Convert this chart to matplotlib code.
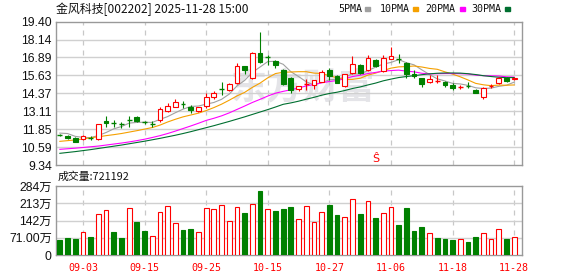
import matplotlib
matplotlib.use('Agg')
import matplotlib.pyplot as plt
from matplotlib.patches import Rectangle

# ---------------- data ----------------
dates = ['08-29', '09-01', '09-02', '09-03', '09-04', '09-05', '09-08', '09-09', '09-10', '09-11',
         '09-12', '09-15', '09-16', '09-17', '09-18', '09-19', '09-22', '09-23', '09-24', '09-25',
         '09-26', '09-29', '09-30', '10-09', '10-10', '10-13', '10-14', '10-15', '10-16', '10-17',
         '10-20', '10-21', '10-22', '10-23', '10-24', '10-27', '10-28', '10-29', '10-30', '10-31',
         '11-03', '11-04', '11-05', '11-06', '11-07', '11-10', '11-11', '11-12', '11-13', '11-14',
         '11-17', '11-18', '11-19', '11-20', '11-21', '11-24', '11-25', '11-26', '11-27', '11-28']
opens = [11.47, 11.40, 11.21, 11.14, 11.28, 11.14, 12.45, 12.30, 12.22, 12.52,
         12.73, 12.38, 12.26, 12.47, 13.15, 13.43, 13.63, 13.38, 13.13, 13.50,
         14.13, 14.72, 14.58, 15.10, 16.28, 15.42, 17.20, 16.92, 16.64, 16.04,
         15.43, 14.65, 15.00, 14.96, 15.20, 16.01, 15.59, 14.90, 15.77, 16.36,
         16.01, 16.71, 15.95, 16.80, 16.80, 16.48, 15.75, 15.43, 15.15, 15.22,
         15.19, 14.96, 14.83, 14.88, 14.61, 14.13, 14.86, 15.08, 15.43, 15.36]
highs = [11.54, 11.45, 11.30, 11.42, 11.40, 12.22, 12.78, 12.50, 12.38, 12.78,
         12.80, 12.45, 12.43, 13.43, 13.70, 13.97, 13.83, 13.55, 13.42, 14.37,
         14.55, 15.19, 15.10, 16.48, 16.30, 17.25, 18.65, 17.08, 16.72, 16.10,
         15.50, 14.92, 15.40, 15.33, 15.98, 16.18, 15.65, 15.75, 16.96, 16.40,
         17.06, 16.75, 17.06, 17.65, 17.12, 16.59, 16.00, 15.45, 15.64, 15.64,
         15.22, 15.12, 14.93, 15.17, 14.68, 14.85, 15.00, 15.55, 15.50, 15.50]
lows = [11.36, 11.17, 10.92, 11.10, 11.10, 11.10, 12.03, 12.03, 11.97, 12.00,
        12.36, 12.20, 12.03, 12.38, 13.08, 13.38, 13.32, 12.97, 13.08, 13.32,
        14.00, 14.25, 14.50, 15.03, 15.73, 15.40, 16.50, 16.35, 16.13, 14.96,
        14.37, 14.55, 14.62, 14.65, 15.15, 15.31, 15.10, 14.85, 15.73, 15.70,
        15.95, 16.25, 15.89, 16.75, 16.52, 15.47, 15.43, 14.84, 15.12, 15.08,
        14.84, 14.61, 14.68, 14.77, 14.37, 13.97, 14.75, 15.00, 15.20, 15.30]
closes = [11.45, 11.22, 10.98, 11.38, 11.26, 12.20, 12.27, 12.27, 12.20, 12.48,
          12.43, 12.34, 12.22, 13.25, 13.48, 13.76, 13.60, 13.17, 13.39, 14.12,
          14.37, 14.70, 15.01, 16.27, 16.04, 17.20, 16.60, 16.88, 16.38, 15.00,
          14.61, 14.88, 15.03, 15.28, 15.85, 15.58, 15.12, 15.71, 16.43, 15.78,
          16.83, 16.29, 16.83, 16.99, 16.76, 15.72, 15.56, 15.05, 15.36, 15.25,
          14.98, 14.72, 14.86, 14.84, 14.40, 14.72, 14.90, 15.43, 15.27, 15.46]
ma5 = [11.58, 11.55, 11.35, 11.28, 11.26, 11.41, 11.62, 11.88, 12.04, 12.28,
       12.33, 12.34, 12.33, 12.54, 12.74, 13.01, 13.26, 13.45, 13.48, 13.61,
       13.73, 13.95, 14.32, 14.89, 15.28, 15.84, 16.22, 16.60, 16.62, 16.41,
       15.89, 15.55, 15.18, 14.96, 15.13, 15.32, 15.37, 15.51, 15.74, 15.72,
       15.97, 16.21, 16.43, 16.54, 16.74, 16.52, 16.37, 16.02, 15.69, 15.39,
       15.24, 15.07, 15.03, 14.93, 14.76, 14.71, 14.74, 14.86, 14.94, 15.16]
ma10 = [11.00, 11.05, 11.10, 11.17, 11.25, 11.32, 11.40, 11.47, 11.55, 11.65,
        11.75, 11.86, 11.97, 12.14, 12.36, 12.55, 12.72, 12.85, 12.98, 13.16,
        13.37, 13.61, 13.89, 14.19, 14.44, 14.79, 15.09, 15.46, 15.76, 15.85,
        15.87, 15.89, 15.89, 15.79, 15.77, 15.61, 15.46, 15.34, 15.35, 15.43,
        15.65, 15.79, 15.97, 16.14, 16.23, 16.25, 16.29, 16.22, 16.12, 16.06,
        15.88, 15.72, 15.53, 15.31, 15.07, 14.97, 14.91, 14.95, 14.94, 14.96]
ma20 = [10.44, 10.48, 10.52, 10.57, 10.62, 10.67, 10.74, 10.81, 10.88, 10.96,
        11.05, 11.15, 11.27, 11.40, 11.55, 11.72, 11.90, 12.08, 12.27, 12.47,
        12.62, 12.79, 13.00, 13.24, 13.48, 13.73, 13.95, 14.18, 14.38, 14.51,
        14.62, 14.75, 14.89, 14.99, 15.11, 15.20, 15.27, 15.40, 15.55, 15.64,
        15.76, 15.84, 15.93, 15.97, 16.00, 15.93, 15.88, 15.78, 15.73, 15.75,
        15.76, 15.76, 15.75, 15.73, 15.65, 15.61, 15.60, 15.59, 15.53, 15.51]
ma30 = [10.16, 10.22, 10.28, 10.35, 10.42, 10.50, 10.58, 10.66, 10.74, 10.83,
        10.92, 11.01, 11.11, 11.21, 11.32, 11.43, 11.55, 11.68, 11.82, 11.96,
        12.10, 12.25, 12.40, 12.56, 12.72, 12.89, 13.06, 13.23, 13.41, 13.60,
        13.70, 13.82, 13.96, 14.09, 14.24, 14.36, 14.45, 14.57, 14.71, 14.82,
        14.96, 15.09, 15.25, 15.37, 15.48, 15.55, 15.61, 15.68, 15.74, 15.78,
        15.80, 15.80, 15.79, 15.75, 15.69, 15.61, 15.55, 15.50, 15.47, 15.48]
volumes = [61.7, 70, 66, 94.7, 74, 167.5, 184, 94.7, 70, 192,
           136, 99, 77, 176, 200, 132, 103, 107, 93, 192,
           188, 205, 139, 196, 173, 210, 263, 188, 181, 189,
           198, 147, 200, 134.5, 176, 206, 165, 155, 229, 169,
           221, 152, 172, 196, 123.5, 193, 99, 115, 89, 70,
           66, 62, 64.5, 53.5, 74, 89, 64.5, 106, 64.5, 72.1]  # unit: 万
vol_up = [0, 0, 0, 1, 0, 1, 1, 0, 0, 1,
          0, 0, 1, 1, 1, 1, 0, 0, 1, 1,
          1, 1, 1, 1, 0, 1, 0, 1, 0, 0,
          0, 1, 1, 1, 1, 0, 0, 1, 1, 0,
          1, 0, 1, 1, 0, 0, 0, 0, 1, 0,
          0, 0, 1, 0, 0, 1, 1, 1, 0, 1]
price_ticks = [9.34, 10.59, 11.85, 13.11, 14.37, 15.63, 16.89, 18.14, 19.40]
price_labels = ['9.34', '10.59', '11.85', '13.11', '14.37', '15.63', '16.89', '18.14', '19.40']
vol_ticks = [0, 71, 142, 213, 284]
vol_labels = ['0', '71.00万', '142万', '213万', '284万']
date_ticks = ['09-03', '09-15', '09-25', '10-15', '10-27', '11-06', '11-18', '11-28']
title = '金风科技[002202] 2025-11-28 15:00'
vol_title = '成交量:721192'
signal_date = '11-04'

# ---------------- style ----------------
RED = '#ff0000'
GREEN = '#008000'
MA_COLORS = ['#a0a0a0', '#f5a000', '#ff00ff', '#006f30']
GRID = '#d0d0d0'
SPINE = '#999999'
CJK = ['Noto Sans CJK SC', 'DejaVu Sans']
NUM = ['Liberation Sans', 'Noto Sans CJK SC']

W, H = 578, 276
fig = plt.figure(figsize=(W / 100, H / 100), dpi=100)


def ax_px(x0, y0, x1, y1):
    return fig.add_axes([x0 / W, 1 - y1 / H, (x1 - x0) / W, (y1 - y0) / H])


ax = ax_px(56, 21.7, 522.3, 165)
axv = ax_px(56, 186, 522.3, 255)

n = len(closes)
xs = list(range(n))
date_pos = [dates.index(d) for d in date_ticks]

for a in (ax, axv):
    a.set_xlim(-0.5, 60.05)
    for s in a.spines.values():
        s.set_color(SPINE)
        s.set_linewidth(1)
    a.tick_params(length=0)
    for p in date_pos:
        a.axvline(p, color='#c8c8c8', lw=0.9, ls=(0, (4, 4)), zorder=1)

# ---- price panel ----
ax.set_ylim(price_ticks[0], price_ticks[-1])
ax.set_yticks(price_ticks)
ax.set_yticklabels(price_labels, family=NUM, fontsize=8.8, color='#111111')
ax.tick_params(axis='y', pad=3)
ax.set_xticks([])
for t in price_ticks[1:-1]:
    ax.axhline(t, color=GRID, lw=1, zorder=1)

ax.text(31.6, 14.75, '东方财富', family=CJK, fontsize=26, fontweight='bold',
        color='#e4e4e8', ha='center', va='center', zorder=0.5)

for vals, col in zip([ma5, ma10, ma20, ma30], MA_COLORS):
    ax.plot(xs, vals, color=col, lw=0.8, zorder=2)

bw = 0.62
for i in range(n):
    o, h, l, c = opens[i], highs[i], lows[i], closes[i]
    up = c >= o
    col = RED if up else GREEN
    ax.vlines(i, l, h, color=col, lw=0.8, zorder=3)
    if abs(c - o) < 0.045:
        ax.hlines((o + c) / 2, i - bw / 2, i + bw / 2, color=col, lw=1.0, zorder=4)
    else:
        ax.add_patch(Rectangle((i - bw / 2, min(o, c)), bw, abs(c - o),
                               facecolor='white' if up else col, edgecolor=col,
                               lw=0.8, zorder=4))

ax.text(dates.index(signal_date), 9.76, 'Ŝ', color=RED, fontsize=8,
        ha='center', va='center', family='DejaVu Sans', zorder=5)

# ---- volume panel ----
axv.set_ylim(0, vol_ticks[-1])
axv.set_yticks(vol_ticks)
axv.set_yticklabels(vol_labels, family=NUM, fontsize=8.8, color='#111111')
axv.tick_params(axis='y', pad=3)
for t in vol_ticks[1:-1]:
    axv.axhline(t, color=GRID, lw=1, zorder=1)
for i in range(n):
    up = vol_up[i] == 1
    col = RED if up else GREEN
    axv.add_patch(Rectangle((i - bw / 2, 0), bw, volumes[i],
                            facecolor='white' if up else col, edgecolor=col,
                            lw=0.8, zorder=3))
axv.set_xticks(date_pos)
axv.set_xticklabels(date_ticks, family='DejaVu Sans Mono', fontsize=7.2, color=RED)
axv.tick_params(axis='x', pad=6)

# ---- texts ----
fig.text(56 / W, 1 - 9.5 / H, title, family=CJK, fontsize=8.6, va='center', ha='left',
         color='#111111')
fig.text(58 / W, 1 - 177 / H, vol_title, family=CJK, fontsize=7.8, va='center', ha='left',
         color='#111111')

legend_names = ['5PMA', '10PMA', '20PMA', '30PMA']
legend_x = [338.3, 380, 425, 471.7]
legend_sq = [365, 413.3, 460, 505]
for name, lx, sx, col in zip(legend_names, legend_x, legend_sq, MA_COLORS):
    fig.text(lx / W, 1 - 9 / H, name, family='DejaVu Sans Mono', fontsize=7.2,
             va='center', ha='left', color='#111111')
    fig.add_artist(Rectangle((sx / W, 1 - 10.5 / H), 5 / W, 3.5 / H,
                             transform=fig.transFigure, color=col))

fig.savefig('out.png', dpi=100)
